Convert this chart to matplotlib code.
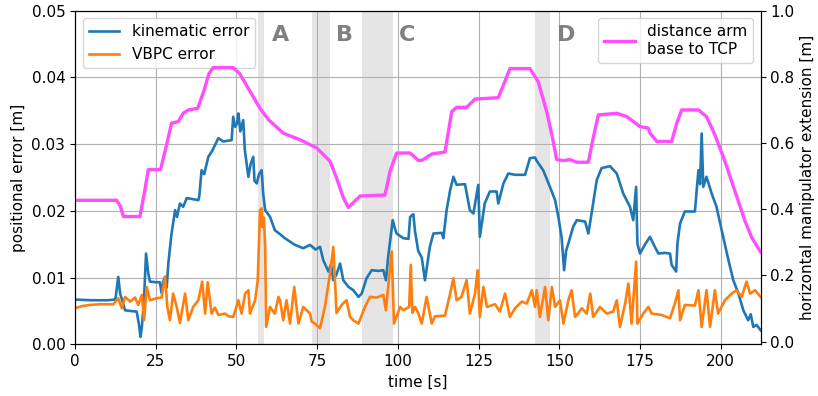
import numpy as np
import matplotlib
matplotlib.use("Agg")
import matplotlib.pyplot as plt

# kinematic error (time [s], error [m])
kin_t = [0, 5, 10, 12.5, 13.4, 14.0, 14.5, 15.5, 17, 19.1, 19.8, 20.3, 20.7, 21.3, 22.0, 22.7,
         23.2, 25, 26.3, 26.8, 27.4, 27.9, 28.4, 28.9, 29.9, 31.0, 31.6, 32.5, 33.5, 34.6, 36,
         38.2, 38.5, 39.2, 40, 41.3, 42.5, 44.4, 45.9, 48.5, 49.0, 49.6, 50.2, 50.6, 51.2, 52.1,
         52.6, 53.7, 54.4, 55.2, 55.6, 56.3, 57.0, 57.8, 58.3, 58.9, 60.4, 61.9, 63.5, 65.0, 68.1,
         70.7, 72.8, 74.5, 75.9, 76.9, 78.5, 79.3, 80.0, 81.0, 82.1, 83.1, 84.7, 86.2, 87.8, 88.8,
         90.3, 91.9, 94.0, 95.5, 96.3, 97.0, 98.4, 99.0, 99.6, 101.7, 103.3, 103.8, 104.8, 105.3,
         106.3, 107.4, 108.4, 109.9, 111, 113.6, 114.1, 115.1, 116.2, 117.2, 118.2, 120.8, 122.3,
         123.4, 124.9, 125.4, 126.9, 128.5, 130.6, 131.1, 132.7, 134.2, 136.3, 139.4, 140.9, 142.5,
         143, 145, 147.1, 148.7, 149.7, 150.7, 151.5, 152.1, 152.8, 154.3, 155.4, 158, 159, 160,
         161.6, 163.1, 165.7, 167.8, 169.8, 171.9, 172.9, 173.8, 174.2, 175, 176.6, 178.1, 179.6,
         180.7, 182.7, 184.3, 184.8, 186.2, 186.6, 187.4, 188.9, 192, 193.1, 193.6, 194.1, 194.6,
         195.6, 197.2, 198.7, 200.3, 202.4, 203.9, 205.5, 207, 208.5, 209.3, 210.1, 211.1, 212.4]
kin_err = [0.0067, 0.0066, 0.0066, 0.0067, 0.0101, 0.0075, 0.0068, 0.0051, 0.0050, 0.0049, 0.0030,
           0.0011, 0.0026, 0.0060, 0.0136, 0.0106, 0.0094, 0.0093, 0.0093, 0.0077, 0.0095, 0.0101,
           0.0085, 0.0121, 0.0166, 0.0201, 0.0191, 0.0211, 0.0206, 0.0219, 0.0218, 0.0216, 0.0222,
           0.0261, 0.0255, 0.0281, 0.0290, 0.0309, 0.0304, 0.0306, 0.0341, 0.0326, 0.0331, 0.0346,
           0.0319, 0.0336, 0.0291, 0.0251, 0.0270, 0.0281, 0.0245, 0.0241, 0.0255, 0.0261, 0.0225,
           0.0201, 0.0191, 0.0171, 0.0165, 0.0159, 0.0149, 0.0144, 0.0149, 0.0142, 0.0146, 0.0126,
           0.0109, 0.0120, 0.0096, 0.0105, 0.0121, 0.0096, 0.0086, 0.0081, 0.0071, 0.0076, 0.0099,
           0.0111, 0.0110, 0.0111, 0.0096, 0.0131, 0.0186, 0.0175, 0.0166, 0.0159, 0.0158, 0.0191,
           0.0195, 0.0170, 0.0140, 0.0130, 0.0096, 0.0146, 0.0166, 0.0167, 0.0159, 0.0201, 0.0231,
           0.0251, 0.0239, 0.0240, 0.0201, 0.0196, 0.0239, 0.0161, 0.0211, 0.0229, 0.0229, 0.0211,
           0.0241, 0.0256, 0.0254, 0.0254, 0.0279, 0.0280, 0.0275, 0.0261, 0.0236, 0.0216, 0.0191,
           0.0161, 0.0111, 0.0140, 0.0151, 0.0176, 0.0186, 0.0184, 0.0166, 0.0196, 0.0246, 0.0264,
           0.0267, 0.0256, 0.0226, 0.0206, 0.0186, 0.0236, 0.0151, 0.0136, 0.0150, 0.0161, 0.0146,
           0.0136, 0.0137, 0.0136, 0.0119, 0.0109, 0.0151, 0.0181, 0.0199, 0.0199, 0.0261, 0.0240,
           0.0316, 0.0236, 0.0251, 0.0226, 0.0206, 0.0171, 0.0126, 0.0096, 0.0076, 0.0051, 0.0036,
           0.0045, 0.0026, 0.0029, 0.0021]

# VBPC error (time [s], error [m])
vbpc_t = [0, 2, 4.6, 8, 11.9, 13.4, 14.5, 15.5, 17.1, 18.6, 19.6, 20.7, 21.4, 22.2, 23.2, 25.3,
          26.8, 27.9, 28.6, 29.4, 30.4, 31.5, 32.5, 33.5, 34.1, 35.1, 36.6, 38.2, 39.4, 40.3, 41.1,
          42.3, 43.3, 44.4, 46.5, 47.5, 49, 50.6, 51.6, 52.7, 53.7, 54.2, 55.8, 56.6, 57.3, 57.8,
          58.0, 58.5, 58.9, 59.2, 60.4, 61.9, 63, 63.5, 64.5, 65.5, 66.6, 67.9, 69.2, 70.7, 72.8,
          73.3, 74.3, 75.9, 77.4, 79, 80, 81, 82.6, 84.1, 85.2, 86.2, 87.8, 89.8, 91.4, 93.5, 95.5,
          96.3, 97.0, 98.1, 98.8, 100.7, 101.7, 103.5, 104.0, 104.5, 105.3, 106.3, 107.4, 108.9,
          110.5, 111.5, 114.6, 116.2, 117.2, 118.2, 119.7, 121.3, 122.3, 123.9, 124.7, 125.4, 126.5,
          127.6, 130.1, 131.6, 133.2, 134.7, 136.3, 138.4, 139.9, 141.5, 142.5, 143, 144, 145.6,
          146.6, 147.7, 148.7, 150.2, 151.3, 152.8, 153.8, 154.9, 157, 158.5, 159.6, 160.5, 162.6,
          164.7, 166.7, 167.8, 168.8, 170.4, 171.4, 172.4, 173.8, 174.2, 176, 177.6, 178.6, 181.7,
          184.3, 185.8, 186.9, 187.4, 188.9, 192, 193.1, 194.1, 195.6, 196.7, 198.2, 199.2, 201.3,
          203.4, 204.9, 206.5, 208, 209.1, 210.6, 212.4]
vbpc_err = [0.0054, 0.0057, 0.0059, 0.0060, 0.0060, 0.0069, 0.0054, 0.0071, 0.0064, 0.0070, 0.0059,
            0.0074, 0.0036, 0.0086, 0.0066, 0.0069, 0.0070, 0.0101, 0.0056, 0.0036, 0.0076, 0.0056,
            0.0032, 0.0060, 0.0076, 0.0036, 0.0056, 0.0066, 0.0094, 0.0046, 0.0093, 0.0046, 0.0055,
            0.0044, 0.0046, 0.0042, 0.0041, 0.0066, 0.0046, 0.0076, 0.0081, 0.0046, 0.0066, 0.0096,
            0.0201, 0.0204, 0.0176, 0.0190, 0.0146, 0.0026, 0.0056, 0.0046, 0.0071, 0.0066, 0.0036,
            0.0066, 0.0031, 0.0086, 0.0031, 0.0056, 0.0046, 0.0034, 0.0031, 0.0024, 0.0056, 0.0106,
            0.0146, 0.0047, 0.0059, 0.0066, 0.0041, 0.0036, 0.0031, 0.0056, 0.0071, 0.0070, 0.0074,
            0.0051, 0.0086, 0.0139, 0.0031, 0.0056, 0.0051, 0.0056, 0.0119, 0.0047, 0.0056, 0.0047,
            0.0031, 0.0071, 0.0031, 0.0042, 0.0043, 0.0076, 0.0099, 0.0066, 0.0071, 0.0096, 0.0046,
            0.0076, 0.0111, 0.0041, 0.0086, 0.0056, 0.0060, 0.0049, 0.0076, 0.0041, 0.0054, 0.0064,
            0.0061, 0.0081, 0.0056, 0.0081, 0.0041, 0.0086, 0.0036, 0.0086, 0.0056, 0.0066, 0.0031,
            0.0066, 0.0081, 0.0041, 0.0054, 0.0046, 0.0076, 0.0041, 0.0056, 0.0046, 0.0049, 0.0066,
            0.0026, 0.0061, 0.0091, 0.0031, 0.0124, 0.0031, 0.0046, 0.0056, 0.0046, 0.0044, 0.0039,
            0.0061, 0.0081, 0.0036, 0.0059, 0.0058, 0.0081, 0.0026, 0.0081, 0.0026, 0.0081, 0.0046,
            0.0066, 0.0076, 0.0081, 0.0071, 0.0094, 0.0076, 0.0081, 0.0071]

# distance arm base to TCP (time [s], extension [m])
dist_t = [0, 12.9, 14, 15, 20.1, 21.5, 22.7, 26.5, 28.5, 29.9, 32, 33.5, 35.1, 38, 40, 41.5, 42.8,
          49, 51, 54, 57.3, 60, 64.5, 69.7, 74.9, 79, 81, 83.1, 84.7, 86.2, 88.3, 96, 97.6, 99.6,
          103.8, 106.3, 107.5, 110.5, 114.6, 116.7, 118.2, 121.3, 123.9, 131.1, 132.7, 134.7, 140.9,
          143.5, 146.1, 147.7, 149.2, 151.3, 153.3, 155.4, 159, 160.5, 162.1, 167.8, 170.9, 175,
          177.6, 178.1, 180.2, 184.8, 186.4, 187.9, 193.1, 195.6, 198.2, 201.3, 204.4, 207.5, 209.6,
          212.4]
dist_ext = [0.427, 0.427, 0.41, 0.378, 0.378, 0.45, 0.52, 0.52, 0.60, 0.66, 0.665, 0.69, 0.70, 0.705,
            0.76, 0.81, 0.828, 0.828, 0.81, 0.76, 0.705, 0.67, 0.63, 0.61, 0.585, 0.545, 0.495, 0.435,
            0.405, 0.42, 0.44, 0.443, 0.515, 0.57, 0.57, 0.548, 0.548, 0.567, 0.573, 0.695, 0.708,
            0.708, 0.733, 0.737, 0.775, 0.825, 0.825, 0.785, 0.695, 0.625, 0.55, 0.547, 0.55, 0.542,
            0.542, 0.615, 0.685, 0.69, 0.68, 0.65, 0.645, 0.63, 0.605, 0.605, 0.66, 0.70, 0.70, 0.68,
            0.625, 0.545, 0.455, 0.365, 0.315, 0.27]

# marked phases
phase_labels = ['A', 'B', 'C', 'D']
phase_start = [56.8, 73.3, 89.0, 142.5]
phase_end = [58.6, 79.0, 98.6, 147.1]
label_x = [63.5, 83.6, 103.0, 152.0]

plt.rcParams['font.size'] = 11

fig, ax1 = plt.subplots(figsize=(8.18, 3.96), dpi=100)
fig.subplots_adjust(left=0.0917, right=0.930, top=0.973, bottom=0.1306)

for s, e in zip(phase_start, phase_end):
    ax1.axvspan(s, e, color='0.5', alpha=0.2, lw=0, zorder=0)
for lab, x in zip(phase_labels, label_x):
    ax1.text(x, 0.0463, lab, fontsize=16, fontweight='bold', color='gray',
             ha='center', va='center')

ax1.plot(kin_t, kin_err, color='#1f77b4', lw=1.9, label='kinematic error')
ax1.plot(vbpc_t, vbpc_err, color='#ff7f0e', lw=1.9, label='VBPC error')
ax1.set_xlim(0, 212.4)
ax1.set_ylim(0, 0.05)
ax1.set_yticks([0, 0.01, 0.02, 0.03, 0.04, 0.05])
ax1.set_xlabel('time [s]')
ax1.set_ylabel('positional error [m]')
ax1.grid(True)
ax1.legend(loc='upper left')

ax2 = ax1.twinx()
ax2.plot(dist_t, dist_ext, color='#ff4dff', lw=2.4, label='distance arm\nbase to TCP')
ax2.set_ylim(-0.008, 1.0)
ax2.set_yticks([0.0, 0.2, 0.4, 0.6, 0.8, 1.0])
ax2.set_ylabel('horizontal manipulator extension [m]')
ax2.legend(loc='upper right')

plt.savefig('out.png', dpi=100)
